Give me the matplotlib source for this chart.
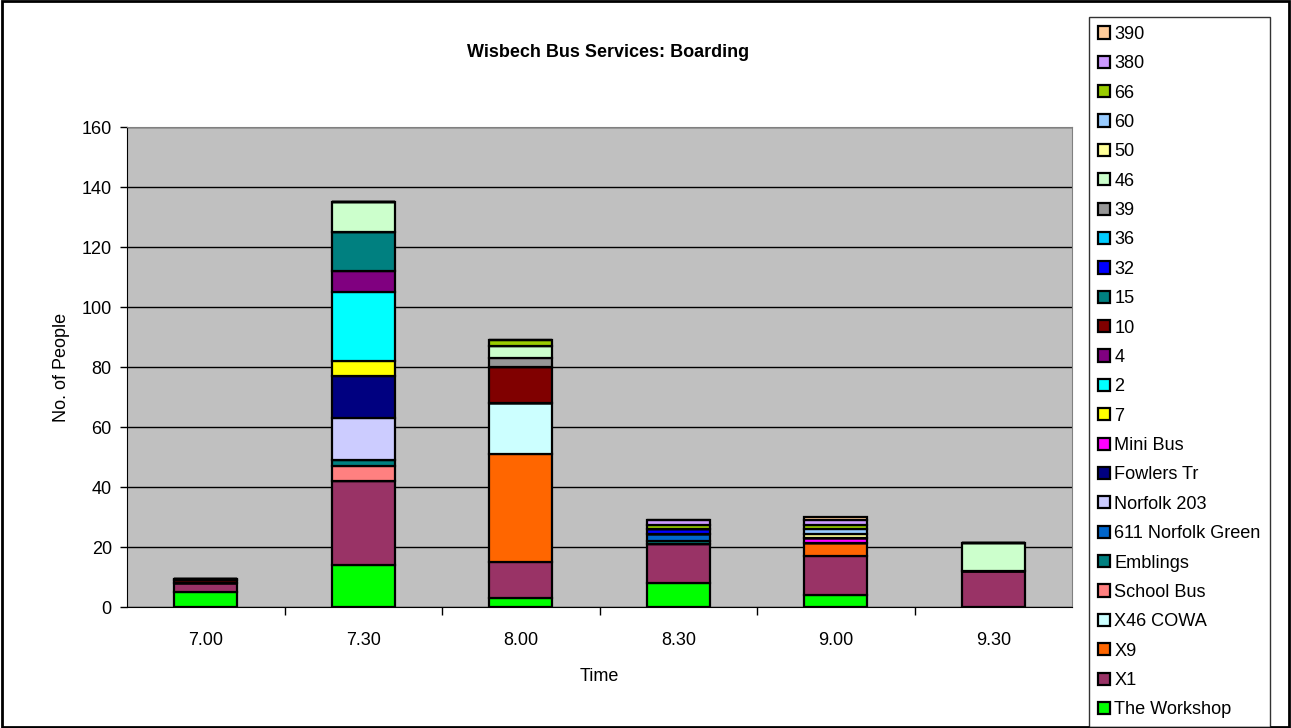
import matplotlib
matplotlib.use('Agg')
import matplotlib.pyplot as plt
import numpy as np
from matplotlib.patches import Rectangle

plt.rcParams['font.family'] = ['Liberation Sans', 'DejaVu Sans']

times = ["7.00", "7.30", "8.00", "8.30", "9.00", "9.30"]

# series, stacked bottom to top
services = ["The Workshop", "X1", "X9", "X46 COWA", "School Bus", "Emblings",
            "611 Norfolk Green", "Norfolk 203", "Fowlers Tr", "Mini Bus",
            "7", "2", "4", "10", "15", "32", "36", "39", "46", "50", "60",
            "66", "380", "390"]

the_workshop = [5, 14, 3, 8, 4, 0]
x1 = [3, 28, 12, 13, 13, 12]
x9 = [0, 0, 36, 0, 4.5, 0]
x46_cowa = [0, 0, 17, 0, 0, 0]
school_bus = [0, 5, 0, 0, 0, 0]
emblings = [0, 2, 0, 1, 0, 0]
norfolk_green_611 = [0, 0, 0, 2.5, 0, 0]
norfolk_203 = [0, 14, 0, 0, 0, 0]
fowlers_tr = [0, 14, 0, 0, 0, 0]
mini_bus = [0, 0, 0, 0, 1.5, 0]
s7 = [0, 5, 0, 0, 0, 0]
s2 = [0, 23, 0, 0, 0, 0]
s4 = [0, 7, 0, 0, 0, 0]
s10 = [1, 0, 12, 0, 0, 0]
s15 = [0, 13, 0, 0, 0, 0]
s32 = [0, 0, 0, 1.5, 0, 0]
s36 = [0, 0, 0, 0, 0, 0]
s39 = [0, 0, 3, 0, 0, 0]
s46 = [0.5, 10, 4, 0, 0, 9.5]
s50 = [0, 0, 0, 0, 1.5, 0]
s60 = [0, 0, 0, 0, 1.5, 0]
s66 = [0, 0, 2, 1.5, 1.5, 0]
s380 = [0, 0, 0, 1.5, 1.5, 0]
s390 = [0, 0, 0, 0, 1, 0]

values = [the_workshop, x1, x9, x46_cowa, school_bus, emblings,
          norfolk_green_611, norfolk_203, fowlers_tr, mini_bus, s7, s2, s4,
          s10, s15, s32, s36, s39, s46, s50, s60, s66, s380, s390]

colors = ["#00FF00", "#993366", "#FF6600", "#CCFFFF", "#FF8080", "#008080",
          "#0066CC", "#CCCCFF", "#000080", "#FF00FF", "#FFFF00", "#00FFFF",
          "#800080", "#800000", "#008080", "#0000FF", "#00CCFF", "#969696",
          "#CCFFCC", "#FFFF99", "#99CCFF", "#99CC00", "#CC99FF", "#FFCC99"]

fig = plt.figure(figsize=(12.91, 7.28), dpi=100)
ax = fig.add_axes([0.0984, 0.1662, 0.7320, 0.6593])
ax.set_facecolor("#C0C0C0")

x = np.arange(len(times))
bottom = np.zeros(len(times))
handles = []
for name, vals, col in zip(services, values, colors):
    vals = np.array(vals, dtype=float)
    b = ax.bar(x, vals, 0.4, bottom=bottom, color=col, edgecolor="black",
               linewidth=1.6, label=name, zorder=3)
    handles.append(b)
    bottom += vals

ax.set_xlim(-0.5, len(times) - 0.5)
ax.set_ylim(0, 160)
ax.set_yticks(np.arange(0, 161, 20))
ax.yaxis.grid(True, color="black", linewidth=1, zorder=1)
ax.set_axisbelow(True)
ax.set_xticks(x)
ax.set_xticklabels(times, fontsize=13)
ax.tick_params(axis='x', which='major', length=0, pad=18)
ax.set_xticks(np.arange(0.5, len(times) - 0.5, 1), minor=True)
ax.tick_params(axis='x', which='minor', length=6, width=1, direction='out')
ax.tick_params(axis='y', length=5, width=1, labelsize=13, pad=6)
for sp in ["top", "right"]:
    ax.spines[sp].set_color("#808080")
for sp in ["left", "bottom"]:
    ax.spines[sp].set_color("black")

ax.set_xlabel("Time", fontsize=13, labelpad=14)
ax.set_ylabel("No. of People", fontsize=13, labelpad=8)
fig.text(0.471, 0.928, "Wisbech Bus Services: Boarding", fontsize=13,
         fontweight="bold", ha="center", va="center")

leg = fig.legend(handles[::-1], services[::-1], loc="upper left",
                 bbox_to_anchor=(0.8435, 0.977), fontsize=13.1,
                 frameon=True, fancybox=False, edgecolor="black",
                 handlelength=0.65, handleheight=0.65, handletextpad=0.25,
                 labelspacing=0.68, borderpad=0.5, borderaxespad=0)
leg.get_frame().set_linewidth(1)

fig.patches.append(Rectangle((0.0015, 0.002), 0.997, 0.996,
                             transform=fig.transFigure, fill=False,
                             edgecolor="black", linewidth=2))

fig.savefig("out.png", dpi=100)
